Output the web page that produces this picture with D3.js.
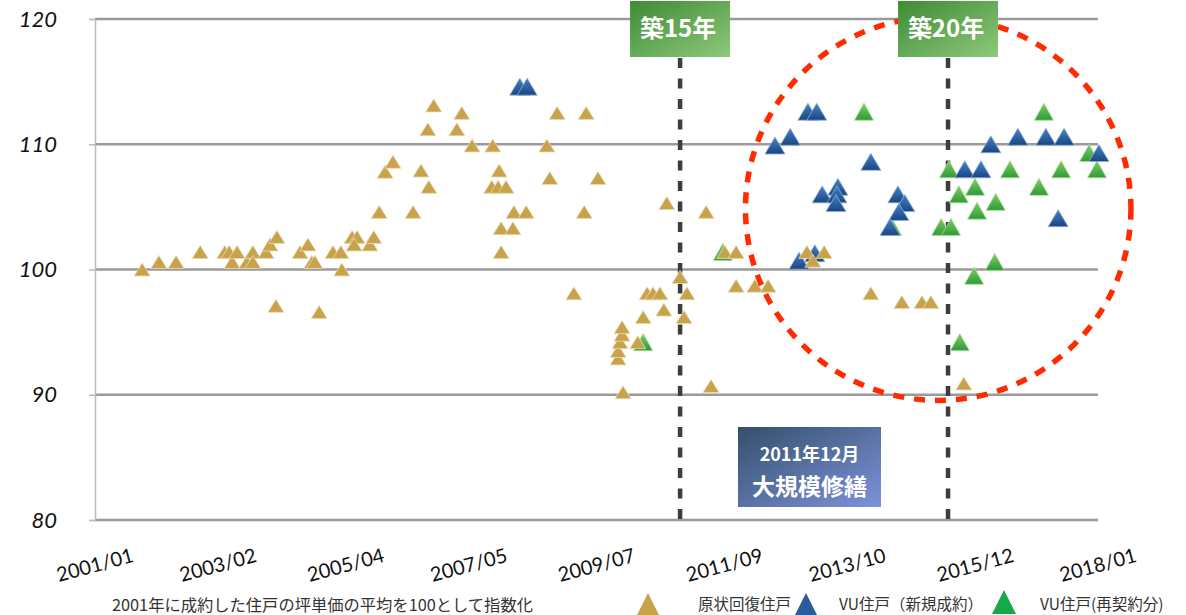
<!DOCTYPE html>
<html>
<head>
<meta charset="utf-8">
<script src="https://cdn.jsdelivr.net/npm/d3@7/dist/d3.min.js"></script>
<style>
  html, body { margin: 0; padding: 0; background: #ffffff; }
  svg { display: block; }
</style>
</head>
<body>
<svg id="chart" width="1186" height="615"></svg>
<script>
// ---------------- DATA ----------------
// x values: months elapsed since 2001/01 ; y values: index (2001 average = 100)
const tickLabels = ["2001/01", "2003/02", "2005/04", "2007/05", "2009/07", "2011/09", "2013/10", "2015/12", "2018/01"];
const yTicks = [80, 90, 100, 110, 120];

const seriesNames = ["原状回復住戸", "VU住戸（新規成約）", "VU住戸(再契約分)"];

const goldMonths = [9.6, 13.0, 16.5, 21.4, 26.4, 27.3, 27.9, 28.9, 30.9, 32.1, 32.1, 34.8, 35.6, 37.0, 36.8,
  41.7, 43.3, 44.1, 44.7, 45.6, 48.4, 50.0, 50.2, 52.3, 53.3, 52.7, 55.9, 56.7, 57.8, 59.0, 60.6,
  64.7, 66.3, 67.9, 67.7, 68.9, 73.6, 74.6, 76.7, 80.9, 80.7, 82.0, 83.6, 82.2, 82.6, 85.0, 82.6,
  85.2, 87.7, 91.9, 94.0, 92.5, 99.9, 99.5, 102.3, 97.4, 106.4, 106.4, 106.8, 107.2, 107.2, 107.4,
  110.4, 111.5, 112.3, 113.5, 114.9, 115.7, 116.3, 119.0, 120.4, 119.8, 124.3, 125.3, 128.1, 130.4,
  130.4, 134.2, 136.9, 144.8, 146.0, 148.3, 157.8, 164.1, 168.2, 170.0, 176.7];
const goldValues = [100.0, 100.6, 100.6, 101.4, 101.4, 101.4, 100.6, 101.4, 100.6, 101.4, 100.6, 101.4, 102.0, 102.6, 97.1,
  101.4, 102.0, 100.6, 100.6, 96.6, 101.4, 101.4, 100.0, 102.6, 102.6, 102.0, 102.0, 102.6, 104.6, 107.8, 108.6,
  104.6, 107.9, 106.6, 111.2, 113.1, 111.2, 112.5, 109.9, 109.9, 106.6, 106.6, 106.6, 107.9, 103.3, 103.3, 101.4,
  104.6, 104.6, 109.9, 112.5, 107.3, 112.5, 104.6, 107.3, 98.1, 92.9, 93.5, 94.2, 94.8, 95.4, 90.2,
  94.2, 96.2, 98.1, 98.1, 98.1, 96.8, 105.3, 99.4, 98.1, 96.2, 104.6, 90.7, 101.4, 101.4,
  98.7, 98.7, 98.7, 101.4, 100.7, 101.4, 98.1, 97.4, 97.4, 97.4, 90.9];

const blueMonths = [86.4, 87.9, 138.3, 141.4, 145.0, 146.8, 143.2, 146.4, 147.9, 151.1, 150.9, 150.7, 157.8,
  163.3, 164.7, 163.5, 161.7, 176.9, 180.2, 182.2, 187.7, 193.4, 197.1, 204.2, 195.9];
const blueValues = [114.6, 114.6, 109.9, 110.6, 112.6, 112.6, 100.7, 101.3, 106.0, 106.6, 106.0, 105.3, 108.6,
  106.0, 105.3, 104.6, 103.4, 108.0, 108.0, 110.0, 110.6, 110.6, 110.6, 109.3, 104.1];

const greenMonths = [111.5, 127.7, 156.4, 162.1, 172.1, 174.1, 173.7, 175.7, 179.0, 179.4, 175.9, 178.8,
  183.0, 183.2, 186.1, 192.0, 193.0, 196.5, 202.2, 203.8];
const greenValues = [94.2, 101.4, 112.6, 103.4, 103.4, 103.4, 108.0, 106.0, 106.6, 104.7, 94.2, 99.5,
  100.6, 105.4, 108.0, 106.6, 112.6, 108.0, 109.3, 108.0];

// building-age milestones (month since 2001/01)
const milestoneMonths = [119, 173.5];
const milestoneLabels = ["築15年", "築20年"];
const repairLines = ["2011年12月", "大規模修繕"];
const captionText = "2001年に成約した住戸の坪単価の平均を100として指数化";

// ---------------- CHART ----------------
const svg = d3.select("#chart");
const plot = { left: 95, right: 1098, top: 19, bottom: 520 };

const parseMonth = s => { const [y, m] = s.split("/").map(Number); return (y - 2001) * 12 + (m - 1); };
const tickMonths = tickLabels.map(parseMonth);

const x = d3.scaleLinear().domain([0, d3.max(tickMonths)]).range([plot.left, plot.right]);
const y = d3.scaleLinear().domain([80, 120]).range([plot.bottom, plot.top]);

const defs = svg.append("defs");
function linGrad(id, stops, x1, y1, x2, y2) {
  const g = defs.append("linearGradient").attr("id", id)
    .attr("x1", x1).attr("y1", y1).attr("x2", x2).attr("y2", y2);
  stops.forEach(([o, c]) => g.append("stop").attr("offset", o).attr("stop-color", c));
}
linGrad("gBlue", [["0%", "#4583c9"], ["100%", "#1a4580"]], "0", "0", "0", "1");
linGrad("gGreen", [["0%", "#7dcf5e"], ["100%", "#2e9a38"]], "0", "0", "0", "1");
linGrad("gBoxGreen", [["0%", "#3d8c33"], ["100%", "#8ec87c"]], "0", "0", "1", "1");
linGrad("gBoxBlue", [["0%", "#34506a"], ["100%", "#7d92dc"]], "0", "0", "1", "1");

// gridlines
svg.append("g").selectAll("line").data(yTicks).join("line")
  .attr("x1", plot.left).attr("x2", plot.right)
  .attr("y1", d => y(d)).attr("y2", d => y(d))
  .attr("stroke", "#9a9a9a").attr("stroke-width", 2.5);

// y axis
const yAxis = d3.axisLeft(y).tickValues(yTicks).tickSize(6).tickPadding(32).tickFormat(d3.format("d"));
const yg = svg.append("g").attr("transform", `translate(${plot.left},0)`).call(yAxis);
yg.select(".domain").attr("stroke", "#bdbdbd").attr("stroke-width", 1.5);
yg.selectAll(".tick line").attr("stroke", "#bdbdbd").attr("stroke-width", 1.5);
yg.selectAll(".tick text")
  .attr("font-family", "Lato, 'Open Sans', sans-serif")
  .attr("font-style", "italic").attr("font-size", 22).attr("fill", "#111")
  .attr("dy", "0.32em");

// x axis labels (rotated)
const xg = svg.append("g");
xg.selectAll("text").data(tickLabels).join("text")
  .attr("transform", (d, i) => `translate(${x(tickMonths[i])},${565}) rotate(-15)`)
  .attr("text-anchor", "middle").attr("dy", "0.35em")
  .attr("font-family", "Lato, 'Open Sans', sans-serif")
  .attr("font-size", 20).attr("fill", "#111")
  .text(d => d);

// milestone dashed verticals (below points)
svg.append("g").selectAll("line").data(milestoneMonths).join("line")
  .attr("x1", d => x(d)).attr("x2", d => x(d))
  .attr("y1", 58).attr("y2", plot.bottom)
  .attr("stroke", "#3d3d3d").attr("stroke-width", 4.5)
  .attr("stroke-dasharray", "10,10.5");

// triangle path with bounding box centered on the data point
function tri(cx, cy, w, h) {
  return `M${cx - w / 2},${cy + h / 2}L${cx},${cy - h / 2}L${cx + w / 2},${cy + h / 2}Z`;
}

const green = greenMonths.map((m, i) => ({ m, v: greenValues[i] }));
const blue = blueMonths.map((m, i) => ({ m, v: blueValues[i] }));
const gold = goldMonths.map((m, i) => ({ m, v: goldValues[i] }));

svg.append("g").selectAll("path").data(green).join("path")
  .attr("d", d => tri(x(d.m), y(d.v), 19, 17))
  .attr("fill", "url(#gGreen)").attr("stroke", "#a8dc98").attr("stroke-width", 0.8);
svg.append("g").selectAll("path").data(blue).join("path")
  .attr("d", d => tri(x(d.m), y(d.v), 20, 17))
  .attr("fill", "url(#gBlue)").attr("stroke", "#8fb0d8").attr("stroke-width", 0.8);
svg.append("g").selectAll("path").data(gold).join("path")
  .attr("d", d => tri(x(d.m), y(d.v), 16, 13))
  .attr("fill", "#c9a24c").attr("stroke", "#eadcb4").attr("stroke-width", 0.8);

// red dashed ellipse (annotation over the points)
const ell = { m: 171.5, v: 104.85, rm: 39.2, rv: 15.3 };
svg.append("ellipse")
  .attr("cx", x(ell.m)).attr("cy", y(ell.v))
  .attr("rx", x(ell.m + ell.rm) - x(ell.m)).attr("ry", y(ell.v) - y(ell.v + ell.rv))
  .attr("fill", "none").attr("stroke", "#ff2a00").attr("stroke-width", 5.5)
  .attr("stroke-dasharray", "11,10");

// milestone boxes
const boxG = svg.append("g");
milestoneMonths.forEach((m, i) => {
  const cx = x(m);
  boxG.append("rect").attr("x", cx - 50).attr("y", 1).attr("width", 100).attr("height", 56)
    .attr("fill", "url(#gBoxGreen)");
  boxG.append("text").attr("x", cx - 2).attr("y", 29).attr("dy", "0.35em")
    .attr("text-anchor", "middle")
    .attr("font-family", "'Noto Sans CJK JP', sans-serif").attr("font-weight", "bold")
    .attr("font-size", 24).attr("fill", "#ffffff")
    .text(milestoneLabels[i]);
});

// 2011/12 repair box
const rb = { x: 738, y: 427, w: 143, h: 80 };
svg.append("rect").attr("x", rb.x).attr("y", rb.y).attr("width", rb.w).attr("height", rb.h)
  .attr("fill", "url(#gBoxBlue)");
svg.append("text").attr("x", rb.x + rb.w / 2).attr("y", 455).attr("dy", "0.35em")
  .attr("text-anchor", "middle")
  .attr("font-family", "'Noto Sans CJK JP', sans-serif").attr("font-weight", "bold")
  .attr("font-size", 18).attr("fill", "#ffffff").text(repairLines[0]);
svg.append("text").attr("x", rb.x + rb.w / 2).attr("y", 487).attr("dy", "0.35em")
  .attr("text-anchor", "middle")
  .attr("font-family", "'Noto Sans CJK JP', sans-serif").attr("font-weight", "bold")
  .attr("font-size", 23).attr("fill", "#ffffff").text(repairLines[1]);

// caption
svg.append("text").attr("x", 112).attr("y", 605).attr("dy", "0.35em")
  .attr("font-family", "'Noto Sans CJK JP', sans-serif")
  .attr("font-size", 16.3).attr("fill", "#333").text(captionText);

// legend
const legend = [
  { name: seriesNames[0], fill: "#c9a24c", tx: 648, lx: 698 },
  { name: seriesNames[1], fill: "#2a5c9c", tx: 806, lx: 839 },
  { name: seriesNames[2], fill: "#16a84a", tx: 1004, lx: 1040 }
];
const lg = svg.append("g");
legend.forEach((d, i) => {
  const top = i === 2 ? 590 : 593;
  lg.append("path").attr("d", `M${d.tx - 12},${top + 24}L${d.tx},${top}L${d.tx + 12},${top + 24}Z`)
    .attr("fill", d.fill);
  lg.append("text").attr("x", d.lx).attr("y", 605).attr("dy", "0.35em")
    .attr("font-family", "'Noto Sans CJK JP', sans-serif")
    .attr("font-size", 15.5).attr("fill", "#333").text(d.name);
});
</script>
</body>
</html>
